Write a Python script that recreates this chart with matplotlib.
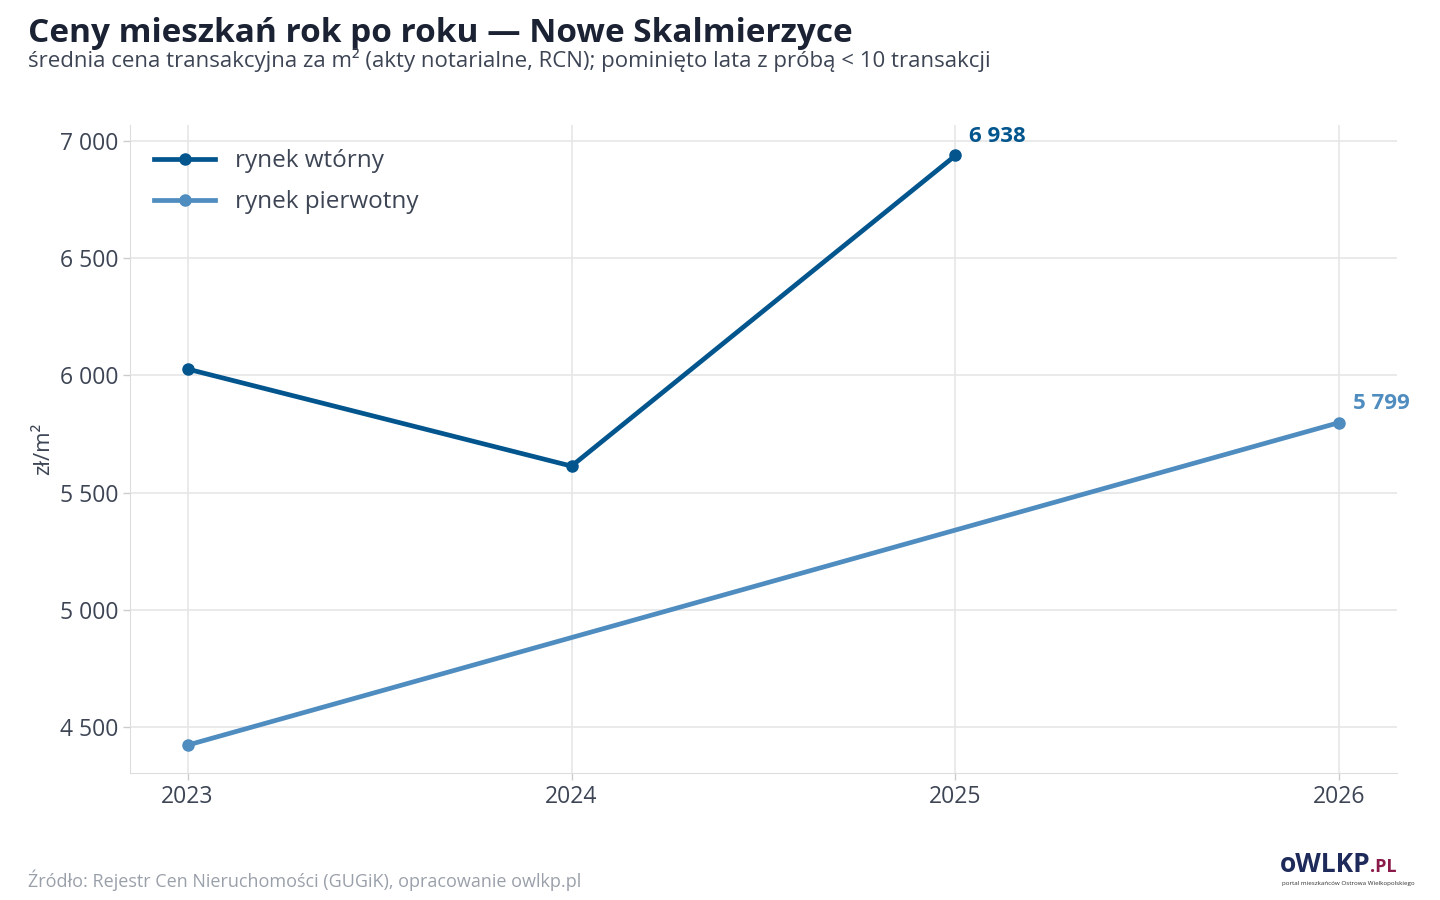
import matplotlib
matplotlib.use('Agg')
import matplotlib.pyplot as plt
from matplotlib.ticker import FuncFormatter

plt.rcParams['font.family'] = ['Open Sans', 'DejaVu Sans']

# dane
lata_wt = [2023, 2024, 2025]
ceny_wt = [6027, 5613, 6938]
lata_pi = [2023, 2026]
ceny_pi = [4423, 5799]

C_WT = '#03558e'
C_PI = '#4f8cbf'
C_TXT = '#1a2233'
C_DIM = '#3d4555'

fig = plt.figure(figsize=(14.4, 9), dpi=100)
ax = fig.add_axes([130/1440, 1-773/900, (1397-130)/1440, (773-125)/900])

ax.plot(lata_wt, ceny_wt, color=C_WT, lw=3.4, marker='o', ms=8, label='rynek wtórny', zorder=3)
ax.plot(lata_pi, ceny_pi, color=C_PI, lw=3.4, marker='o', ms=8, label='rynek pierwotny', zorder=3)

fmt = lambda v: f'{v:,.0f}'.replace(',', ' ')
ax.annotate(fmt(ceny_wt[-1]), (lata_wt[-1], ceny_wt[-1]), xytext=(10, 10),
            textcoords='offset points', color=C_WT, fontsize=16, fontweight='bold')
ax.annotate(fmt(ceny_pi[-1]), (lata_pi[-1], ceny_pi[-1]), xytext=(10, 10),
            textcoords='offset points', color=C_PI, fontsize=16, fontweight='bold')

ax.set_xlim(2022.85, 2026.15)
ax.set_ylim(4304, 7068)
ax.set_xticks([2023, 2024, 2025, 2026])
ax.set_yticks([4500, 5000, 5500, 6000, 6500, 7000])
ax.yaxis.set_major_formatter(FuncFormatter(lambda v, p: fmt(v)))
ax.grid(True, color='#e6e6e6', lw=1.2)
ax.set_axisbelow(True)
for s in ['top', 'right']:
    ax.spines[s].set_visible(False)
for s in ['left', 'bottom']:
    ax.spines[s].set_color('#dddddd')
ax.tick_params(colors=C_DIM, labelsize=16.5, length=5, width=1, color='#cccccc')
ax.set_ylabel('zł/m²', color=C_DIM, fontsize=16)

leg = ax.legend(loc='upper left', fontsize=17.5, frameon=False, handlelength=2.5,
                labelcolor=C_DIM, borderaxespad=0.6, labelspacing=0.7)

fig.text(28/1440, 1-33/900, 'Ceny mieszkań rok po roku — Nowe Skalmierzyce',
         fontsize=24, fontweight='bold', color=C_TXT, va='center')
fig.text(28/1440, 1-60/900,
         'średnia cena transakcyjna za m² (akty notarialne, RCN); pominięto lata z próbą < 10 transakcji',
         fontsize=16, color=C_DIM, va='center')
fig.text(28/1440, 1-880/900, 'Źródło: Rejestr Cen Nieruchomości (GUGiK), opracowanie owlkp.pl',
         fontsize=13, color='#9aa0aa', va='center')
fig.text(1280/1440, 1-865/900, 'oWLKP', fontsize=19, fontweight='bold', color='#1e2a5a', va='center')
fig.text(1370/1440, 1-867/900, '.PL', fontsize=13, fontweight='bold', color='#8a1a4a', va='center')
fig.text(1282/1440, 1-884/900, 'portal mieszkańców Ostrowa Wielkopolskiego', fontsize=4.5,
         color='#333333', va='center')

fig.savefig('out.png', dpi=100)
